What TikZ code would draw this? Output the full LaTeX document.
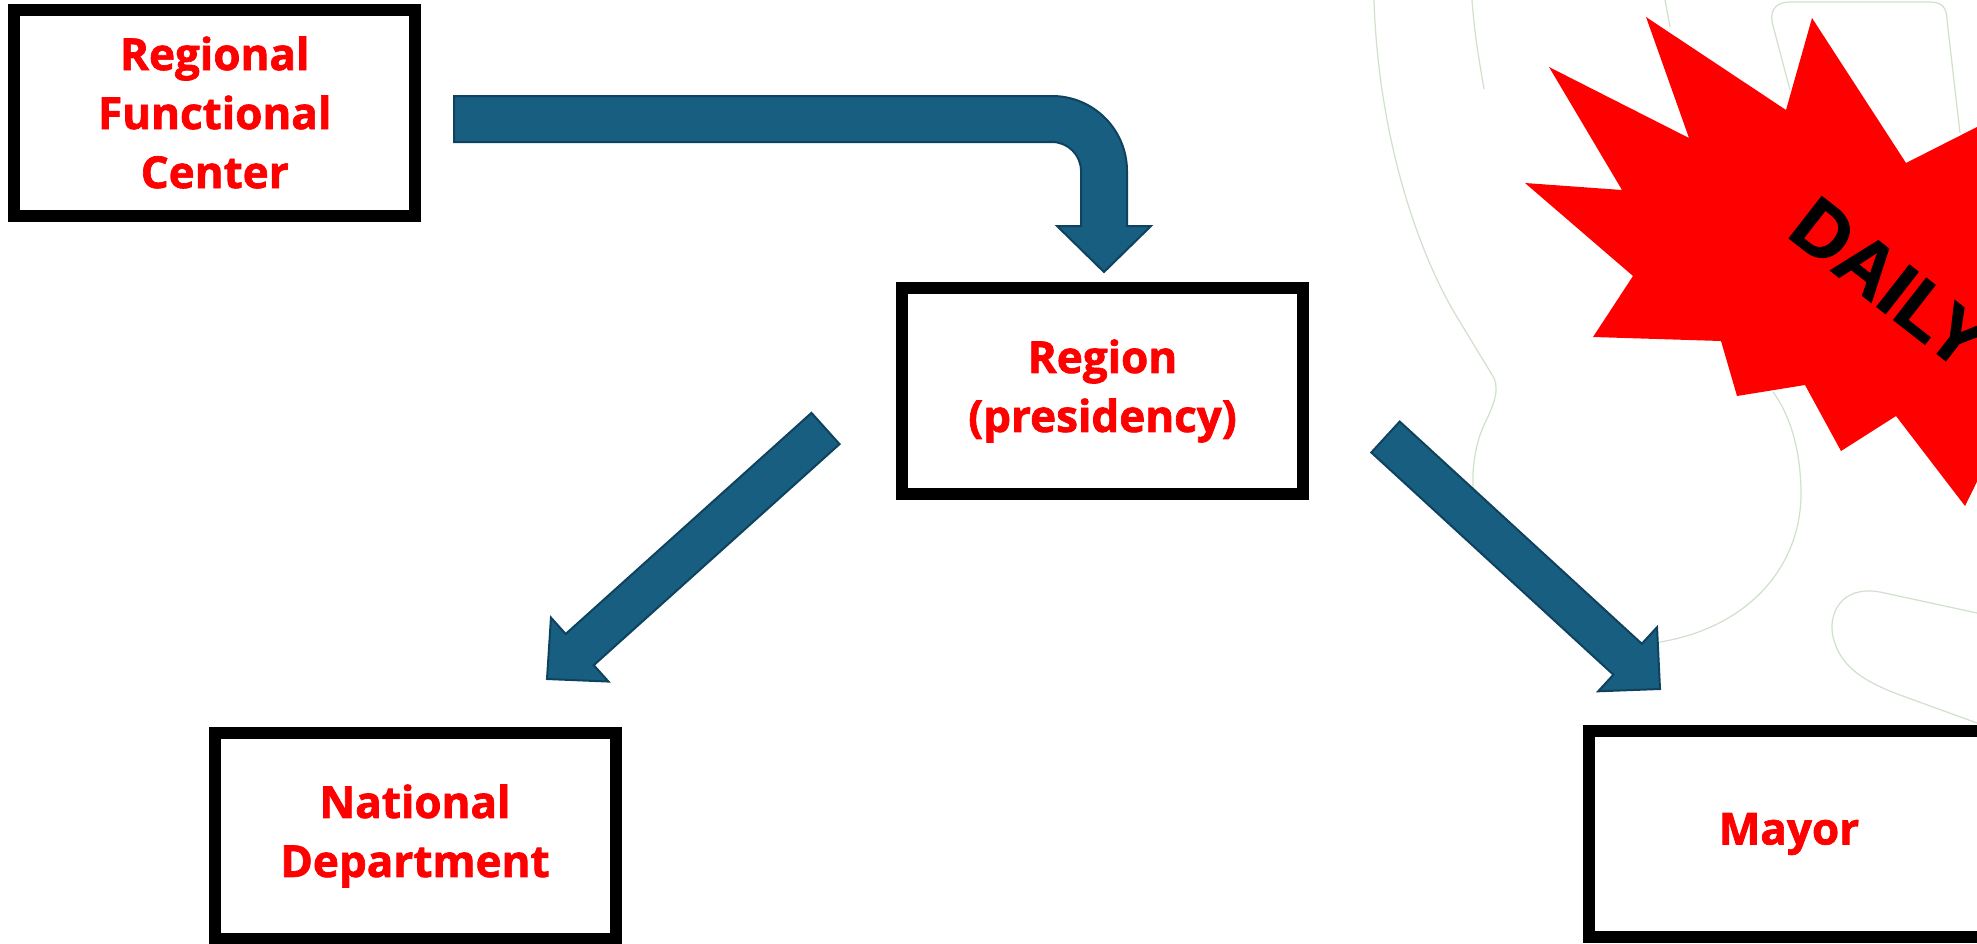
\documentclass[tikz,border=0pt]{standalone}
\usepackage{fontspec}
\setmainfont{Open Sans}[BoldFeatures={RawFeature={embolden=1.6}}]
\newfontfamily\dailyfont{Liberation Sans}[BoldFeatures={RawFeature={embolden=1.5}}]
\usetikzlibrary{calc}
\definecolor{arrowfill}{RGB}{23,94,128}
\definecolor{arrowedge}{RGB}{14,66,94}
\definecolor{boxred}{RGB}{255,0,0}
\definecolor{faint}{RGB}{208,224,204}
\tikzset{
  orgbox/.style={draw=black, line width=12pt, fill=white, minimum width=401pt,
    minimum height=206pt, inner sep=0pt, align=center, text=boxred,
    font=\fontsize{44}{59}\selectfont\bfseries},
  blockarrow/.style={fill=arrowfill, draw=arrowedge, line width=2pt, line join=miter},
  faintline/.style={draw=faint, line width=1.2pt},
  burst/.style={fill=red},
  burstlabel/.style={inner sep=0pt, text=black,
    font=\dailyfont\bfseries\fontsize{77}{77}\selectfont},
}
\begin{document}
\begin{tikzpicture}[x=1pt,y=-1pt]
\useasboundingbox (0,0) rectangle (1977,943);
\clip (0,0) rectangle (1977,943);
\fill[white] (0,0) rectangle (1977,943);

% faint background outlines
\path[faintline] (1374,0) .. controls (1378,130) and (1415,250) .. (1460,322)
  -- (1494,378) .. controls (1500,392) and (1492,408) .. (1484,425)
  .. controls (1468,460) and (1466,520) .. (1500,565)
  .. controls (1540,620) and (1600,648) .. (1660,642)
  .. controls (1745,628) and (1800,570) .. (1801,495)
  .. controls (1801,450) and (1790,415) .. (1773,392);
\path[faintline] (1472,0) .. controls (1475,40) and (1480,65) .. (1484,89);
\path[faintline] (1665,0) -- (1670,27);
\path[faintline] (1790,90) -- (1772,22) .. controls (1770,8) and (1778,2) .. (1790,2)
  -- (1930,2) .. controls (1942,2) and (1947,8) .. (1947,20) -- (1960,133);
\path[faintline] (1977,613) -- (1880,592) .. controls (1840,585) and (1828,615) .. (1833,637)
  .. controls (1840,665) and (1860,680) .. (1900,695) -- (1977,723);

% boxes
\node[orgbox] (rfc) at (214.75,112.5) {Regional\\Functional\\Center};
\node[orgbox] (reg) at (1102.5,391) {Region\\(presidency)};
\node[orgbox] (nat) at (415,836) {National\\Department};
\node[orgbox] (may) at (1789,834) {Mayor};

% bent arrow from rfc to reg
\coordinate (bstart) at (454,119);
\coordinate (bend) at (1104,272);
\path[blockarrow] (bstart |- 0,96) -- (1052,96)
  .. controls (1093.4,96) and (1127,129.6) .. (1127,171)
  -- (1127,226) -- (1151,226) -- (bend) -- (1057,226) -- (1081,226) -- (1081,171)
  .. controls (1081,155) and (1068,142) .. (1052,142) -- (bstart |- 0,142) -- cycle;

% left diagonal arrow from reg to nat
\coordinate (ltail) at (825.5,428.5);
\coordinate (ltip) at (547,679);
\coordinate (lbase) at ($(ltip)!44pt!(ltail)$);
\path[blockarrow] ($(ltail)!21pt!90:(ltip)$) -- ($(lbase)!21pt!90:(ltip)$)
  -- ($(lbase)!43pt!90:(ltip)$) -- (ltip) -- ($(lbase)!43pt!-90:(ltip)$)
  -- ($(lbase)!21pt!-90:(ltip)$) -- ($(ltail)!21pt!-90:(ltip)$) -- cycle;

% right diagonal arrow from reg to may
\coordinate (rtail) at (1385.5,437);
\coordinate (rtip) at (1660,689);
\coordinate (rbase) at ($(rtip)!44pt!(rtail)$);
\path[blockarrow] ($(rtail)!21pt!90:(rtip)$) -- ($(rbase)!21pt!90:(rtip)$)
  -- ($(rbase)!43.5pt!90:(rtip)$) -- (rtip) -- ($(rbase)!43.5pt!-90:(rtip)$)
  -- ($(rbase)!21pt!-90:(rtip)$) -- ($(rtail)!21pt!-90:(rtip)$) -- cycle;

% starburst
\path[burst] (1646,17) -- (1786,110) -- (1812,18) -- (1906,163) -- (1977,127)
  -- (2030,100) -- (2020,300) -- (1995,445) -- (1965,506) -- (1896,416)
  -- (1841,451) -- (1805,385) -- (1737,396) -- (1721,341) -- (1593,337)
  -- (1633,276) -- (1525,183) -- (1622,190) -- (1549,67) -- (1689,138) -- cycle;
\node[burstlabel, anchor=base west, rotate=-38] (daily) at (1785,235) {DAILY};
\end{tikzpicture}
\end{document}
